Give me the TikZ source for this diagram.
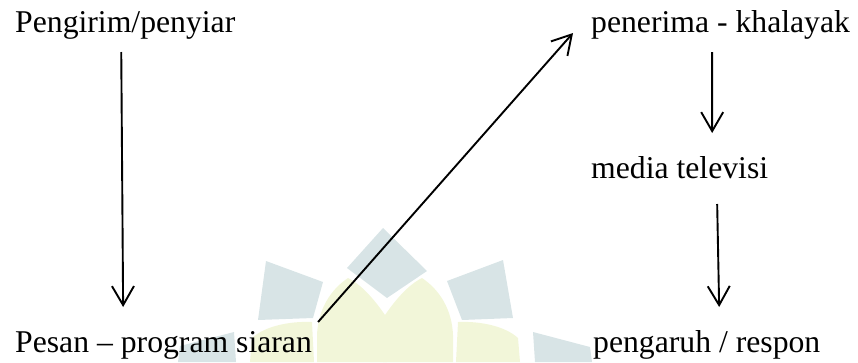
\documentclass[tikz,border=0pt]{standalone}
\usepackage{fontspec}
\setmainfont{Liberation Serif}
\usetikzlibrary{arrows.meta,calc}
\definecolor{wmblue}{RGB}{216,228,230}
\definecolor{wmyellow}{RGB}{242,246,217}
\begin{document}
\begin{tikzpicture}[x=1pt,y=-1pt,
  lbl/.style={anchor=base west,inner sep=0pt,font=\fontsize{31.7}{38}\selectfont},
  arr/.style={line width=1.9pt,-{Straight Barb[length=19pt,width=22pt,line width=1.9pt]}},
  wmb/.style={fill=wmblue},
  wmy/.style={fill=wmyellow}]
\useasboundingbox (0,0) rectangle (858,362);
% faint background watermark
\begin{scope}
\clip (0,0) rectangle (858,362);
\fill[wmb] (383,228) -- (427,271) -- (387,298) -- (347,268) -- cycle;
\fill[wmb] (266,261) -- (323,282) -- (313,318) -- (258,320) -- cycle;
\fill[wmb] (503,260) -- (447,281) -- (462,320) -- (513,318) -- cycle;
\fill[wmb] (180,346) -- (234,332) -- (236,362) -- (178,362) -- cycle;
\fill[wmb] (533,332) -- (590,347) -- (592,362) -- (535,362) -- cycle;
\fill[wmy] (387,362) -- (387,318) .. controls (375,300) and (362,285) .. (348,278)
  .. controls (330,290) and (318,310) .. (317,335) -- (317,362) -- cycle;
\fill[wmy] (383,362) -- (383,318) .. controls (395,300) and (408,285) .. (422,278)
  .. controls (440,290) and (452,310) .. (453,335) -- (453,362) -- cycle;
\fill[wmy] (250,362) -- (252,338) .. controls (265,326) and (290,321) .. (312,322)
  -- (314,362) -- cycle;
\fill[wmy] (520,362) -- (518,338) .. controls (505,326) and (480,321) .. (458,322)
  -- (456,362) -- cycle;
\end{scope}
% labels
\node[lbl] (send)  at (15,32)  {Pengirim/penyiar};
\node[lbl] (msg)   at (15,352) {Pesan – program siaran};
\node[lbl] (recv)  at (591,32) {penerima - khalayak};
\node[lbl] (media) at (591,178) {media televisi};
\node[lbl] (eff)   at (593,352) {pengaruh / respon};
% connectors
\draw[arr] ($(send.base)+(-4,20)$) -- ($(msg.base)+(-40.4,-45)$);
\draw[arr] ($(msg.base east)+(6,-30)$) -- ($(recv.base west)+(-18,1)$);
\draw[arr] ($(recv.base)+(-8.4,20)$) -- ($(media.base)+(32.5,-45)$);
\draw[arr] ($(media.base)+(37.5,26)$) -- ($(eff.base)+(12.4,-45)$);
\end{tikzpicture}
\end{document}
